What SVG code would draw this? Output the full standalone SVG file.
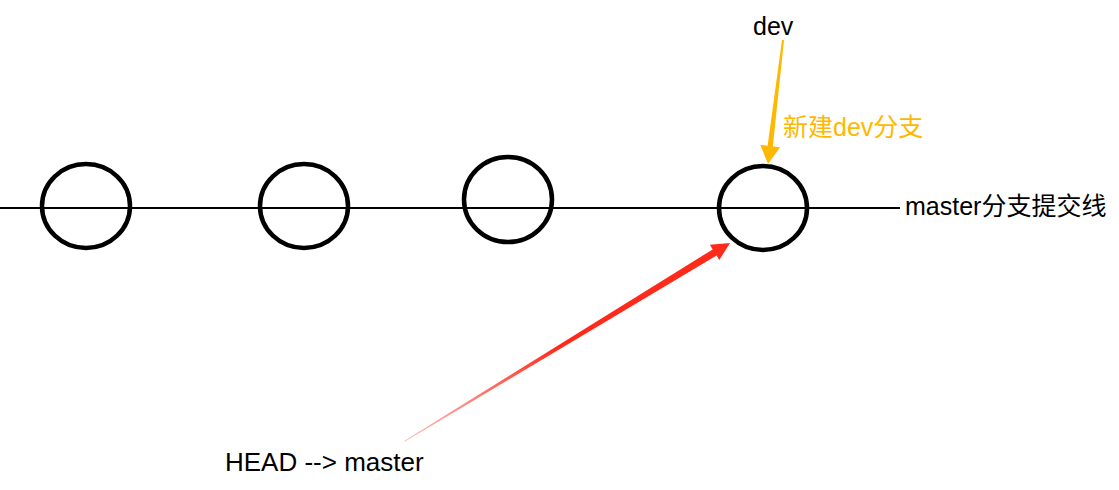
<svg xmlns="http://www.w3.org/2000/svg" width="1119" height="490" viewBox="0 0 1119 490">
<style>
.commit{fill:none;stroke:#000;stroke-width:4.5}
.line{stroke:#000;stroke-width:2}
text{font-family:"Liberation Sans","Noto Sans CJK SC",sans-serif;font-size:25px;fill:#000}
.orange{fill:#FFB800}
.big{font-size:26px}
</style>
<defs>
<linearGradient id="redfade" gradientUnits="userSpaceOnUse" x1="404" y1="441" x2="560" y2="346">
<stop offset="0" stop-color="#FF2A1A" stop-opacity="0.3"/>
<stop offset="1" stop-color="#FF2A1A" stop-opacity="1"/>
</linearGradient>
</defs>
<rect width="1119" height="490" fill="#fff"/>
<g id="connectors">
<line class="line" x1="0" y1="208" x2="900" y2="208"/>
<polygon id="head-arrow" fill="url(#redfade)" points="404,441 712.7,249.4 709.9,244.7 730,243 719.3,260.1 716.6,255.5 404.6,441.8"/>
<polygon id="dev-arrow" fill="#FFB800" points="782,39.9 784,40.1 772.8,146.4 780.1,147.3 768,164 760.3,144.9 767.6,145.8"/>
</g>
<g id="c1"><ellipse class="commit" cx="86" cy="206" rx="44" ry="42"/></g>
<g id="c2"><ellipse class="commit" cx="304" cy="206" rx="44" ry="42"/></g>
<g id="c3"><ellipse class="commit" cx="508" cy="199.5" rx="44" ry="42.5"/></g>
<g id="c4"><ellipse class="commit" cx="763" cy="208" rx="44" ry="42"/></g>
<g id="labels">
<text x="753" y="35">dev</text>
<text class="orange" x="783" y="136">新建dev分支</text>
<text x="905" y="215">master分支提交线</text>
<text class="big" x="225" y="471">HEAD --&gt; master</text>
</g>
</svg>
